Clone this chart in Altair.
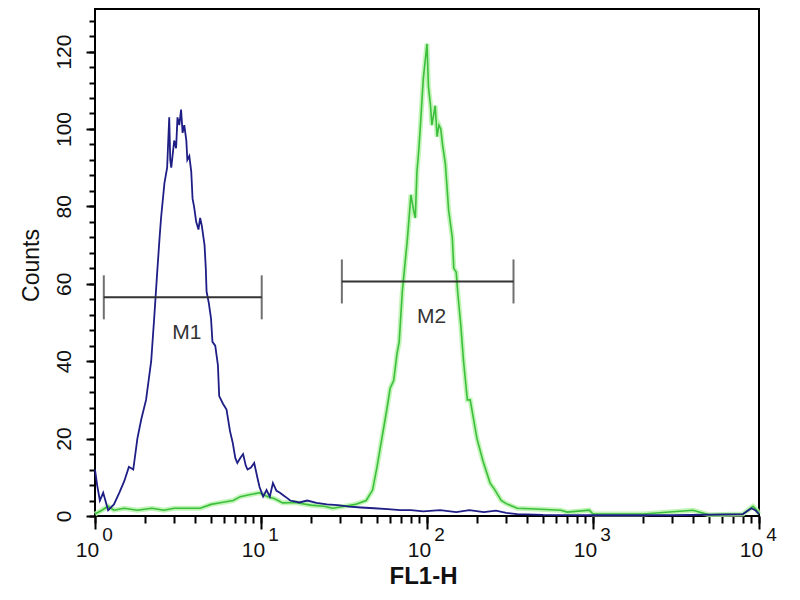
import altair as alt
import pandas as pd

# FL1-H channel (log) and counts
blue_fl1 = [1.0, 1.03, 1.07, 1.12, 1.2, 1.3, 1.4, 1.5, 1.6, 1.7, 1.8, 1.9, 2.03, 2.18,
            2.28, 2.37, 2.45, 2.5, 2.62, 2.72, 2.8, 2.84, 2.88, 3.0, 3.08, 3.14, 3.22,
            3.3, 3.37, 3.45, 3.55, 3.6, 3.7, 3.8, 3.87, 3.95, 4.07, 4.2, 4.3, 4.4, 4.57,
            4.65, 4.7, 4.85, 5.0, 5.1, 5.3, 5.5, 5.6, 5.9, 6.2, 6.5, 6.75, 7.0, 7.2, 7.5,
            7.8, 8.1, 8.3, 8.7, 9.1, 9.5, 9.8, 10.3, 10.8, 11.3, 11.8, 12.4, 13, 14, 15,
            17, 19, 21.6, 25, 29, 34, 40, 48, 58, 69, 80, 95, 120, 150, 180, 220, 260,
            300, 350, 500, 1000, 3000, 8000, 9000, 9500, 10000]
blue_counts = [12, 8, 4, 6, 1.5, 3, 6, 9, 12.7, 12, 20, 25, 30, 40,
               52, 63, 72, 77, 86, 90, 103, 92, 90, 97, 95, 103, 101,
               105, 99, 101, 97, 92, 93, 89, 82, 80, 76, 74, 77, 75, 70,
               64, 58, 55, 51, 45, 44, 39, 31, 29, 27.5, 22, 19, 15, 13.7, 15,
               16, 13, 12, 12.5, 13.7, 10, 7.5, 5, 6.7, 5, 8.5, 6.5, 6, 5, 4,
               3.5, 4, 3.4, 3, 2.8, 2.4, 2.2, 2, 1.8, 1.5, 1.5, 1.2, 1.5, 1.0, 1.5, 1.0, 1.4,
               0.8, 0.5, 0.3, 0.2, 0.2, 0.5, 2, 1.5, 0.5]

green_fl1 = [1.0, 1.1, 1.2, 1.3, 1.5, 1.8, 2.2, 2.6, 3.0, 3.6, 4.3, 5.0, 5.8, 6.8, 7.5,
             8.5, 9.8, 11, 12, 13.5, 16, 20, 24, 27, 32, 37, 43, 47, 50, 52, 57, 60,
             63, 66, 68, 71, 74, 76, 80, 83, 85, 87, 89, 91, 95, 100, 102, 105, 107,
             110, 112, 115, 118, 121, 124, 129, 133, 135, 142, 145, 150, 153, 160,
             166, 175, 182, 200, 218, 240, 254, 280, 300, 350, 450, 640, 700, 950,
             1000, 2000, 4000, 5000, 8000, 9200, 9700, 10000]
green_counts = [0.5, 1.5, 2.5, 1.5, 2, 1.5, 2, 1.5, 2, 2, 2, 3, 3.5, 4, 5,
                5.5, 6, 5, 4.5, 3.4, 3.5, 2.8, 2.5, 2, 2.5, 3, 4, 6.7, 12.7, 17, 27, 33,
                35, 42, 45, 58, 66, 71, 83, 79, 77, 89, 94, 100, 113, 122, 111, 106, 101,
                104, 106, 98, 101, 100, 96, 91, 83, 79, 72, 64, 63, 58, 49,
                40, 30, 30, 20, 14, 8.5, 7, 4, 3.2, 2, 1.8, 1.5, 1.0, 1.5,
                0.5, 0.5, 1.5, 0.3, 0.5, 2.5, 1.5, 0.5]

# gates
marker_names = ["M1", "M2"]
marker_start = [1.13, 30.7]
marker_end = [10.1, 332]
marker_level = [56.5, 60.6]

# axis ticks
decades = [1, 10, 100, 1000, 10000]
minor_x = [m * d for d in decades[:-1] for m in range(1, 10)] + [10000]
major_y = list(range(0, 121, 20))
minor_y = list(range(0, 129, 4))

FONT = "Liberation Sans"

blue = pd.DataFrame({"fl1": blue_fl1, "counts": blue_counts})
green = pd.DataFrame({"fl1": green_fl1, "counts": green_counts})
gates = pd.DataFrame({"name": marker_names, "start": marker_start,
                      "end": marker_end, "level": marker_level})
gates["center"] = (gates["start"] * gates["end"]) ** 0.5

xs = alt.Scale(type="log", domain=[1, 10000], nice=False)
ys = alt.Scale(domain=[0, 131], nice=False, zero=False)

x_major = alt.Axis(values=decades, grid=False, tickSize=13, tickWidth=2,
                   tickColor="black", domain=False,
                   labelExpr="'10'", labelOffset=-8,
                   labelFontSize=21, labelPadding=10, labelBaseline="top",
                   labelFlush=False, labelOverlap=False, labelColor="#111",
                   labelFont=FONT, title="FL1-H", titleFont=FONT, titleFontSize=24,
                   titleFontWeight="bold", titleColor="#111", titleX=328,
                   titleY=67, titleBaseline="alphabetic", orient="bottom")
x_minor = alt.Axis(values=minor_x, grid=False, tickSize=7, tickWidth=2,
                   tickColor="black", domain=False,
                   labelExpr="abs(log(datum.value)/LN10 - round(log(datum.value)/LN10)) < 0.001"
                             " ? format(round(log(datum.value)/LN10), 'd') : ''",
                   labelOffset=12, labelPadding=2, labelFontSize=19, labelBaseline="top",
                   labelFlush=False, labelOverlap=False, labelColor="#111",
                   labelFont=FONT, title=None, orient="bottom")
y_major = alt.Axis(values=major_y, grid=False, tickSize=9, tickWidth=2,
                   tickColor="black", domain=False,
                   labelAngle=270, labelAlign="center",
                   labelBaseline="bottom", labelPadding=12, labelFontSize=21,
                   labelColor="#111", labelFont=FONT, labelFlush=False,
                   labelOverlap=False, title="Counts", titleFont=FONT,
                   titleFontSize=23, titleFontWeight="normal", titleColor="#111",
                   titleAngle=270, titleX=-64, titleY=256, titleAlign="center",
                   titleBaseline="middle", orient="left")
y_minor = alt.Axis(values=minor_y, grid=False, tickSize=6, tickWidth=2,
                   tickColor="black", domain=False,
                   labels=False, title=None, orient="left")

green_glow = alt.Chart(green).mark_line(color="#b4f2a8", strokeWidth=5, opacity=0.8).encode(
    x=alt.X("fl1:Q", scale=xs, axis=x_major),
    y=alt.Y("counts:Q", scale=ys, axis=y_major),
)
green_line = alt.Chart(green).mark_line(color="#3cbf3c", strokeWidth=1.6).encode(
    x=alt.X("fl1:Q", scale=xs, axis=x_minor),
    y=alt.Y("counts:Q", scale=ys, axis=y_minor),
)
blue_line = alt.Chart(blue).mark_line(color="#1e1e86", strokeWidth=1.8).encode(
    x=alt.X("fl1:Q", scale=xs, axis=None),
    y=alt.Y("counts:Q", scale=ys, axis=None),
)

gate_bar = alt.Chart(gates).mark_rule(color="#333", strokeWidth=2).encode(
    x=alt.X("start:Q", scale=xs, axis=None),
    x2="end:Q",
    y=alt.Y("level:Q", scale=ys, axis=None),
)
gate_ends = alt.Chart(gates).transform_fold(["start", "end"]).mark_tick(
    orient="vertical", size=44, thickness=2, color="#333"
).encode(
    x=alt.X("value:Q", scale=xs, axis=None),
    y=alt.Y("level:Q", scale=ys, axis=None),
)
gate_text = alt.Chart(gates).mark_text(
    dy=36, dx=4, fontSize=21, font=FONT, color="#333", baseline="middle"
).encode(
    x=alt.X("center:Q", scale=xs, axis=None),
    y=alt.Y("level:Q", scale=ys, axis=None),
    text="name:N",
)

chart = alt.layer(
    green_glow, green_line, blue_line, gate_bar, gate_ends, gate_text
).resolve_axis(
    x="independent", y="independent"
).properties(
    width=664, height=507,
    padding={"left": 12, "top": 1, "right": 5, "bottom": 0},
    background="white",
).configure_view(
    stroke="black", strokeWidth=2
)

chart.save("out.html", embed_options={"renderer": "svg", "actions": False})
